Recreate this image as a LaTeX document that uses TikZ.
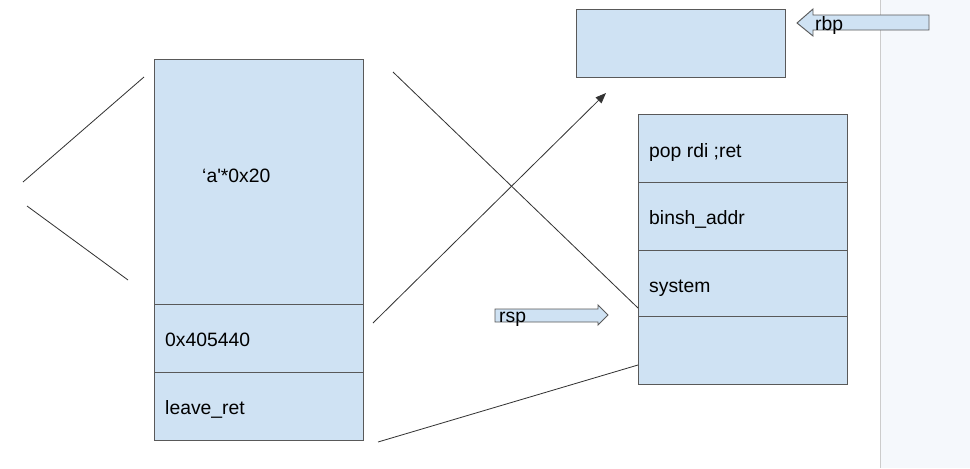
\documentclass[tikz,border=0pt]{standalone}
\usepackage{fontspec}
\setmainfont{Liberation Sans}
\usetikzlibrary{arrows.meta,positioning}
\definecolor{cellblue}{HTML}{CFE2F3}
\definecolor{cellline}{HTML}{595959}
\definecolor{panel}{HTML}{F5F8FC}
\tikzset{font=\fontsize{16.5}{20}\selectfont}
\tikzset{cell/.style={draw=cellline,fill=cellblue,inner sep=0pt,outer sep=0pt,minimum width=6.27cm}}
\tikzset{lbl/.style={anchor=base west,inner sep=0pt}}
\tikzset{wire/.style={draw=black!80,line width=0.7pt}}
\tikzset{blockarr/.style={draw=cellline,fill=cellblue,line width=0.8pt,line join=miter}}

\begin{document}
\begin{tikzpicture}[x=0.03cm,y=-0.03cm]
  \useasboundingbox (0,0) rectangle (970,468);
  \fill[panel] (880,0) rectangle (970,468);
  \draw[black!20] (880,0) -- (880,468);
  % left stack
  \node[cell,minimum height=7.35cm] (buf) at (259,181.5) {};
  \node[cell,minimum height=2.04cm,below=0pt of buf] (gadget) {};
  \node[cell,minimum height=2.04cm,below=0pt of gadget] (leave) {};
  \node[lbl] (buftxt) at (202,182) {‘a\textquotesingle*0x20};
  \node[lbl] (gadgettxt) at (165,346) {0x405440};
  \node[lbl] (leavetxt) at (165,414) {leave\_ret};
  % right stack
  \node[cell,minimum height=2.04cm] (pop) at (743,148) {};
  \node[cell,minimum height=2.04cm,below=0pt of pop] (binsh) {};
  \node[cell,minimum height=1.98cm,below=0pt of binsh] (sys) {};
  \node[cell,minimum height=2.04cm,below=0pt of sys] (empty) {};
  \node[lbl] (poptxt) at (649,157) {pop rdi ;ret};
  \node[lbl] (binshtxt) at (649,224) {binsh\_addr};
  \node[lbl] (systxt) at (649,292) {system};
  \node[cell,minimum height=2.04cm] (top) at (681,43) {};
  % pointers
  \draw[blockarr] (797,23) -- (813,9) -- (813,15) -- (929,15) -- (929,30) -- (813,30) -- (813,36) -- cycle;
  \node[lbl] (rbp) at (815,30) {rbp};
  \draw[blockarr] (495,309) -- (598,309) -- (598,305) -- (608,315) -- (598,325) -- (598,322) -- (495,322) -- cycle;
  \node[lbl] (rsp) at (499,322) {rsp};
  % lines
  \coordinate (l1a) at (23,182);   \coordinate (l1b) at (144,77);
  \coordinate (l2a) at (27,206);   \coordinate (l2b) at (128,280);
  \coordinate (l3a) at (393,72);   \coordinate (l3b) at (638,308);
  \coordinate (l4a) at (373,323);  \coordinate (l4b) at (606,93);
  \coordinate (l5a) at (378,442);  \coordinate (l5b) at (638,365);
  \draw[wire] (l1a) -- (l1b);
  \draw[wire] (l2a) -- (l2b);
  \draw[wire] (l3a) -- (l3b);
  \draw[wire,-{Triangle[length=9pt,width=7pt]}] (l4a) -- (l4b);
  \draw[wire] (l5a) -- (l5b);
\end{tikzpicture}
\end{document}
